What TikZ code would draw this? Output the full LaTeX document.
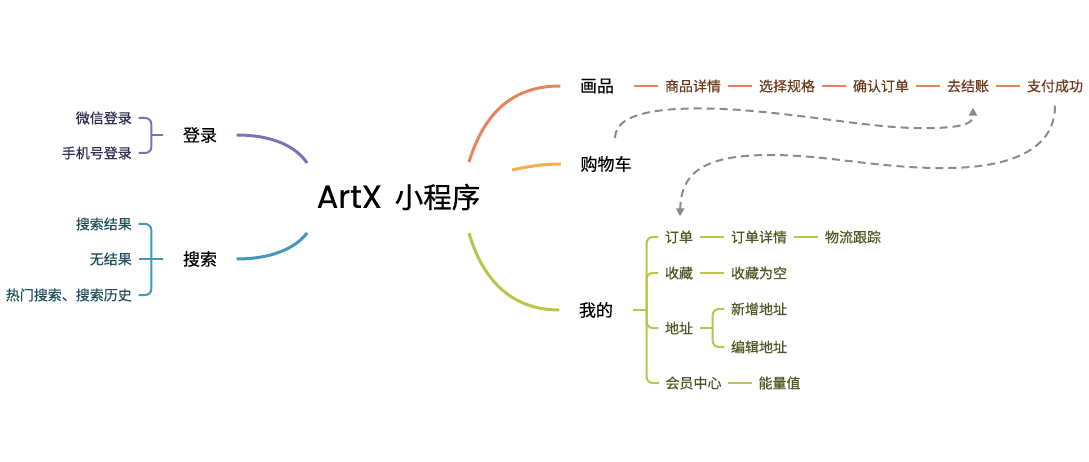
\documentclass[tikz,border=0pt]{standalone}
\usepackage{fontspec}
\setmainfont{Noto Sans CJK SC}[FakeBold=0.4]
\newfontfamily\latinf{Poppins}[FakeBold=0.6]
\newfontfamily\rootcjk{Noto Sans CJK SC}[FakeBold=0.8]
\usetikzlibrary{arrows.meta}
\definecolor{cpur}{HTML}{7A72B8}
\definecolor{cteal}{HTML}{4298B6}
\definecolor{corange}{HTML}{E8845C}
\definecolor{cyellow}{HTML}{F2B04B}
\definecolor{cgreen}{HTML}{B8C44A}
\definecolor{cdash}{HTML}{8A8A8A}
\definecolor{tnavy}{HTML}{2C2D50}
\definecolor{tteal}{HTML}{1F4E5C}
\definecolor{tbrown}{HTML}{6B3A1F}
\definecolor{tolive}{HTML}{4F5725}
\begin{document}
\begin{tikzpicture}[x=1pt,y=-1pt,
  rootnode/.style={inner sep=0pt, font=\fontsize{28.5}{32}\selectfont},
  mainnode/.style={inner xsep=19.5pt, inner ysep=2pt, font=\fontsize{17}{20}\selectfont, text=black},
  leafnode/.style={inner xsep=6.5pt, inner ysep=2pt, font=\fontsize{14}{16}\selectfont},
  mainline/.style={line width=3pt},
  subline/.style={line width=2pt, rounded corners=6pt},
  flowline/.style={line width=2pt, dash pattern=on 8pt off 5pt, cdash, -{Triangle[length=8pt,width=8pt]}},
]
\useasboundingbox (0,0) rectangle (1089,462);

% root
\node[rootnode] (root) at (398.5,197) {{\latinf\fontsize{32}{34}\selectfont ArtX}\hspace{13pt}{\rootcjk 小程序}};

% main nodes
\node[mainnode] (dl) at (200,135) {登录};
\node[mainnode] (ss) at (200,259) {搜索};
\node[mainnode] (hp) at (597,86) {画品};
\node[mainnode] (gwc) at (606,164) {购物车};
\node[mainnode] (wd) at (596,310) {我的};

% start points at root
\coordinate (rdl) at ([shift={(-91.5,-34)}]root.center);
\coordinate (rss) at ([shift={(-91.5,36)}]root.center);
\coordinate (rhp) at ([shift={(70.5,-35)}]root.center);
\coordinate (rgwc) at ([shift={(113.5,-27)}]root.center);
\coordinate (rwd) at ([shift={(70.5,36)}]root.center);

% main curves
\draw[mainline,cpur] (dl.east) .. controls (270,135) and (295,145) .. (rdl);
\draw[mainline,cteal] (ss.east) .. controls (270,259) and (295,249) .. (rss);
\draw[mainline,corange] (rhp) .. controls (485,110) and (515,86) .. (hp.west);
\draw[mainline,cyellow] (rgwc) .. controls (530,166) and (545,164) .. (gwc.west);
\draw[mainline,cgreen] (rwd) .. controls (482,278) and (510,310) .. (wd.west);

% login leaves
\begin{scope}[leafnode/.append style={anchor=east, text=tnavy}]
\node[leafnode] (wx) at (138.5,118) {微信登录};
\node[leafnode] (sj) at (138.5,153) {手机号登录};
\end{scope}
\coordinate (jl) at ([xshift=-12pt]dl.west);
\draw[subline,cpur] (wx.east) -| (jl) |- (sj.east);
\draw[subline,cpur] (dl.west) -- (jl);

% search leaves
\begin{scope}[leafnode/.append style={anchor=east, text=tteal}]
\node[leafnode] (s1) at (138.5,224) {搜索结果};
\node[leafnode] (s2) at (138.5,259) {无结果};
\node[leafnode] (s3) at (138.5,295) {热门搜索、搜索历史};
\end{scope}
\coordinate (js) at ([xshift=-12pt]ss.west);
\draw[subline,cteal] (s1.east) -| (js) |- (s3.east);
\draw[subline,cteal] (s2.east) -- (ss.west);

% huapin chain
\begin{scope}[leafnode/.append style={text=tbrown}]
\node[leafnode] (h1) at (693,86) {商品详情};
\node[leafnode] (h2) at (787,86) {选择规格};
\node[leafnode] (h3) at (881,86) {确认订单};
\node[leafnode] (h4) at (968,86) {去结账};
\node[leafnode] (h5) at (1055,86) {支付成功};
\end{scope}
\draw[subline,corange] (hp.east) -- (h1.west);
\draw[subline,corange] (h1.east) -- (h2.west);
\draw[subline,corange] (h2.east) -- (h3.west);
\draw[subline,corange] (h3.east) -- (h4.west);
\draw[subline,corange] (h4.east) -- (h5.west);

% wode subtree
\begin{scope}[leafnode/.append style={text=tolive}]
\node[leafnode] (dd) at (679,237) {订单};
\node[leafnode] (ddxq) at (759,237) {订单详情};
\node[leafnode] (wlgz) at (853,237) {物流跟踪};
\node[leafnode] (sc) at (679,273) {收藏};
\node[leafnode] (scwk) at (759,273) {收藏为空};
\node[leafnode] (dz) at (679,328) {地址};
\node[leafnode] (xzdz) at (759,309) {新增地址};
\node[leafnode] (bjdz) at (759,347) {编辑地址};
\node[leafnode] (hyzx) at (693.5,383) {会员中心};
\node[leafnode] (nlz) at (779.5,383) {能量值};
\end{scope}
\coordinate (jw) at ([xshift=14pt]wd.east);
\draw[subline,cgreen] (wd.east) -- (jw);
\draw[subline,cgreen] (jw) |- (dd.west);
\draw[subline,cgreen] (jw) |- (sc.west);
\draw[subline,cgreen] (jw) |- (dz.west);
\draw[subline,cgreen] (jw) |- (hyzx.west);
\draw[subline,cgreen] (dd.east) -- (ddxq.west);
\draw[subline,cgreen] (ddxq.east) -- (wlgz.west);
\draw[subline,cgreen] (sc.east) -- (scwk.west);
\coordinate (jd) at ([xshift=13pt]dz.east);
\draw[subline,cgreen] (dz.east) -- (jd);
\draw[subline,cgreen] (jd) |- (xzdz.west);
\draw[subline,cgreen] (jd) |- (bjdz.west);
\draw[subline,cgreen] (hyzx.east) -- (nlz.west);

% dashed flow arrows
\coordinate (f1s) at ([xshift=9pt,yshift=16pt]gwc.north);
\coordinate (f1e) at ([xshift=5pt,yshift=-13pt]h4.south);
\draw[flowline] (f1s) .. controls (615,108) and (680,106) .. (740,110)
  .. controls (820,116) and (880,130) .. (935,128)
  .. controls (968,127) and (973,122) .. (f1e);
\coordinate (f2s) at ([yshift=-11pt]h5.south);
\coordinate (f2e) at ([xshift=1pt,yshift=12pt]dd.north);
\draw[flowline] (f2s) .. controls (1055,150) and (1010,167) .. (950,168)
  .. controls (880,169) and (830,155) .. (770,155)
  .. controls (700,155) and (681,175) .. (f2e);
\end{tikzpicture}
\end{document}
